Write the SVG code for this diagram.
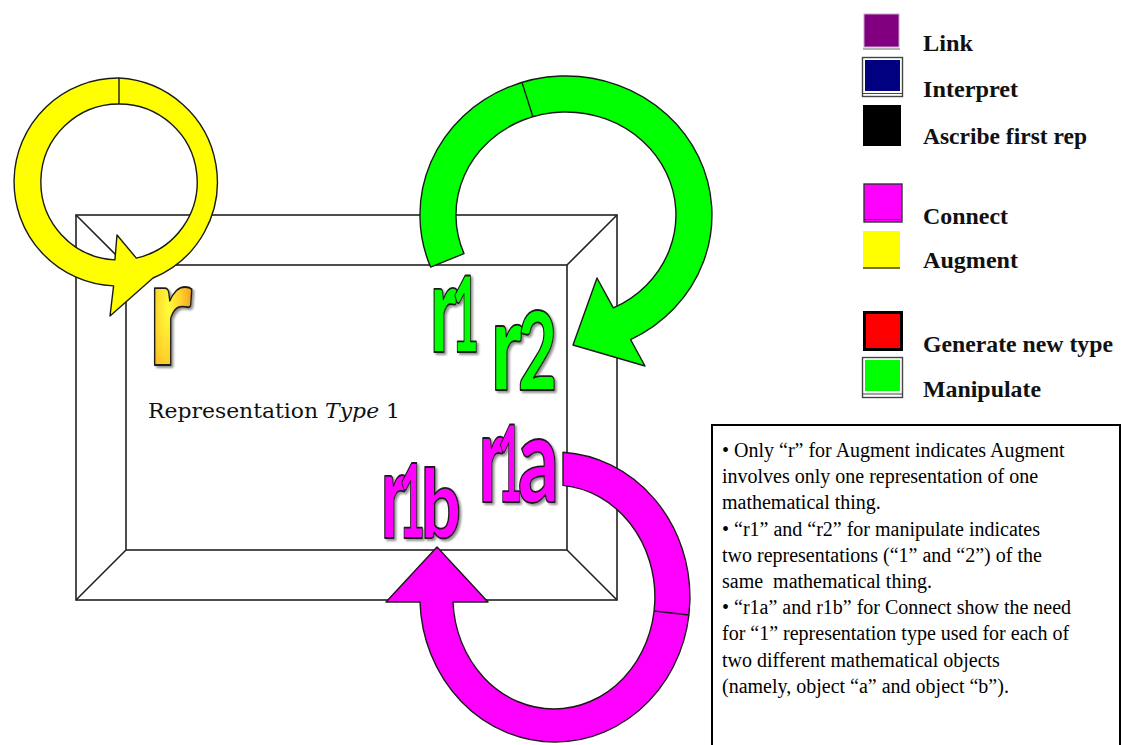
<svg xmlns="http://www.w3.org/2000/svg" width="1123" height="745" viewBox="0 0 1123 745">
  <style>
    .frame { fill: none; stroke: #222; stroke-width: 1.6; }
    .band { fill-rule: evenodd; stroke: #1a1a1a; stroke-width: 1.4; stroke-linejoin: round; }
    .seam { fill: none; stroke: #1a1a1a; stroke-width: 1.4; }
    .tag { font-family: Lato, Inter, Roboto, "Liberation Sans", sans-serif; font-weight: 900; stroke: #1a1a1a; stroke-width: 1.8; stroke-linejoin: round; filter: url(#shade); }
    .legend { font-family: "Liberation Serif", "Times New Roman", serif; font-weight: bold; font-size: 23px; fill: #111; }
    .note { font-family: "Liberation Serif", "Times New Roman", serif; font-size: 20px; fill: #000; white-space: pre; }
  </style>
  <defs>
    <filter id="shade" x="-20%" y="-20%" width="150%" height="150%">
      <feDropShadow dx="2" dy="2" stdDeviation="1.2" flood-color="#777" flood-opacity="0.8"/>
    </filter>
    <radialGradient id="glow" cx="0.45" cy="0.5" r="0.65">
      <stop offset="0" stop-color="#ffff3a"/>
      <stop offset="0.45" stop-color="#ffd22a"/>
      <stop offset="1" stop-color="#f0901c"/>
    </radialGradient>
  </defs>

  <rect width="1123" height="745" fill="#fff"/>

  <!-- bevelled frame of the representation type -->
  <g id="frame">
    <rect class="frame" x="76" y="215" width="541" height="385"/>
    <rect class="frame" x="126" y="265" width="441" height="285"/>
    <path class="frame" d="M76,215 L126,265 M617,215 L567,265 M76,600 L126,550 M617,600 L567,550"/>
    <text x="148" y="418" font-family="DejaVu Serif, Liberation Serif, serif" font-size="20" fill="#111" textLength="252" lengthAdjust="spacingAndGlyphs">Representation <tspan font-style="italic">Type</tspan> 1</text>
  </g>

  <!-- looping arrows -->
  <g id="connectors">
    <g id="augment-loop">
      <path class="band" fill="#ffff00" d="M119,78 A104,104 0 0 0 113.6,285.9 L110,316 L153,278 A104,104 0 0 0 119,78 Z M119,104 A78,78 0 0 0 114.9,259.9 L117,235 L136.3,258.1 A78,78 0 0 0 119,104 Z"/>
      <path class="seam" d="M119,78 L119,104"/>
    </g>
    <g id="manipulate-loop">
      <path class="band" fill="#00ff00" d="M430.6,267.1 A146,139 0 1 1 630.6,339.6 L645,366 L573,345 L597,278 L613.3,307.9 A110,103 0 1 0 464,253.6 Z"/>
      <path class="seam" d="M522,82.4 L532.9,116.7"/>
    </g>
    <g id="connect-loop">
      <path class="band" fill="#ff00ff" d="M563,452.3 A135,145 0 1 1 420,602 L386,602 L437,547 L488,602 L453,602 A101,112 0 1 0 563,485.4 Z"/>
      <path class="seam" d="M654,611 L689,615"/>
    </g>
  </g>

  <!-- representation tags -->
  <g id="tag-r">
    <text class="tag" fill="url(#glow)" y="365"><tspan x="148" font-size="148" textLength="44" lengthAdjust="spacingAndGlyphs">r</tspan></text>
  </g>
  <g id="tag-r1">
    <text class="tag" fill="#00ff00" y="352"><tspan x="430" font-size="122" textLength="27" lengthAdjust="spacingAndGlyphs">r</tspan><tspan x="452" font-size="105" textLength="27" lengthAdjust="spacingAndGlyphs">1</tspan></text>
  </g>
  <g id="tag-r2">
    <text class="tag" fill="#00ff00" y="390"><tspan x="491" font-size="124" textLength="31" lengthAdjust="spacingAndGlyphs">r</tspan><tspan x="518" font-size="109" textLength="39" lengthAdjust="spacingAndGlyphs">2</tspan></text>
  </g>
  <g id="tag-r1a">
    <text class="tag" fill="#ff00ff" y="502"><tspan x="479" font-size="124" textLength="25" lengthAdjust="spacingAndGlyphs">r</tspan><tspan x="498" font-size="107" textLength="24" lengthAdjust="spacingAndGlyphs">1</tspan><tspan x="518" font-size="121" textLength="41" lengthAdjust="spacingAndGlyphs">a</tspan></text>
  </g>
  <g id="tag-r1b">
    <text class="tag" fill="#ff00ff" y="538"><tspan x="381" font-size="121" textLength="25" lengthAdjust="spacingAndGlyphs">r</tspan><tspan x="399" font-size="102" textLength="26" lengthAdjust="spacingAndGlyphs">1</tspan><tspan x="421" font-size="96" textLength="40" lengthAdjust="spacingAndGlyphs">b</tspan></text>
  </g>

  <!-- key of process colours -->
  <g id="legend">
    <g id="key-link">
      <rect x="864" y="14" width="35" height="33" fill="#800080" stroke="#c9a6c9" stroke-width="1"/>
      <line x1="863" y1="49" x2="900" y2="49" stroke="#666" stroke-width="1.2"/>
      <text class="legend" x="923" y="51" textLength="50" lengthAdjust="spacingAndGlyphs">Link</text>
    </g>
    <g id="key-interpret">
      <rect x="862.5" y="57.5" width="40" height="39" fill="#fff" stroke="#444" stroke-width="1.4"/>
      <rect x="865" y="60" width="35" height="31" fill="#000080"/>
      <line x1="862" y1="93.5" x2="903" y2="93.5" stroke="#444" stroke-width="1.2"/>
      <text class="legend" x="923" y="97" textLength="95" lengthAdjust="spacingAndGlyphs">Interpret</text>
    </g>
    <g id="key-ascribe">
      <rect x="863" y="105" width="38" height="41" fill="#000"/>
      <text class="legend" x="923" y="144" textLength="164" lengthAdjust="spacingAndGlyphs">Ascribe first rep</text>
    </g>
    <g id="key-connect">
      <rect x="864" y="184" width="38" height="38" fill="#ff00ff" stroke="#333" stroke-width="1.4"/>
      <line x1="864" y1="219.5" x2="902" y2="219.5" stroke="#333" stroke-width="1"/>
      <text class="legend" x="923" y="224" textLength="85" lengthAdjust="spacingAndGlyphs">Connect</text>
    </g>
    <g id="key-augment">
      <rect x="863" y="231" width="37" height="38" fill="#ffff00"/>
      <line x1="863" y1="268" x2="900" y2="268" stroke="#444" stroke-width="1.5"/>
      <text class="legend" x="923" y="268" textLength="95" lengthAdjust="spacingAndGlyphs">Augment</text>
    </g>
    <g id="key-generate">
      <rect x="864.5" y="312.5" width="37" height="37" fill="#ff0000" stroke="#000" stroke-width="3"/>
      <text class="legend" x="923" y="352" textLength="190" lengthAdjust="spacingAndGlyphs">Generate new type</text>
    </g>
    <g id="key-manipulate">
      <rect x="862.5" y="357.5" width="40" height="40" fill="#fff" stroke="#444" stroke-width="1.4"/>
      <rect x="865" y="360" width="35" height="31" fill="#00ff00"/>
      <line x1="862" y1="394" x2="903" y2="394" stroke="#444" stroke-width="1.2"/>
      <text class="legend" x="923" y="397" textLength="118" lengthAdjust="spacingAndGlyphs">Manipulate</text>
    </g>
  </g>

  <!-- explanatory notes -->
  <g id="notes">
    <rect x="712" y="425" width="408" height="340" fill="#fff" stroke="#000" stroke-width="2"/>
    <text class="note" x="722" y="457">• Only “r” for Augment indicates Augment</text>
    <text class="note" x="722" y="483.2">involves only one representation of one</text>
    <text class="note" x="722" y="509.4">mathematical thing.</text>
    <text class="note" x="722" y="535.6">• “r1” and “r2” for manipulate indicates</text>
    <text class="note" x="722" y="561.8">two representations (“1” and “2”) of the</text>
    <text class="note" x="722" y="588">same  mathematical thing.</text>
    <text class="note" x="722" y="614.2">• “r1a” and r1b” for Connect show the need</text>
    <text class="note" x="722" y="640.4">for “1” representation type used for each of</text>
    <text class="note" x="722" y="666.6">two different mathematical objects</text>
    <text class="note" x="722" y="692.8">(namely, object “a” and object “b”).</text>
  </g>
</svg>
